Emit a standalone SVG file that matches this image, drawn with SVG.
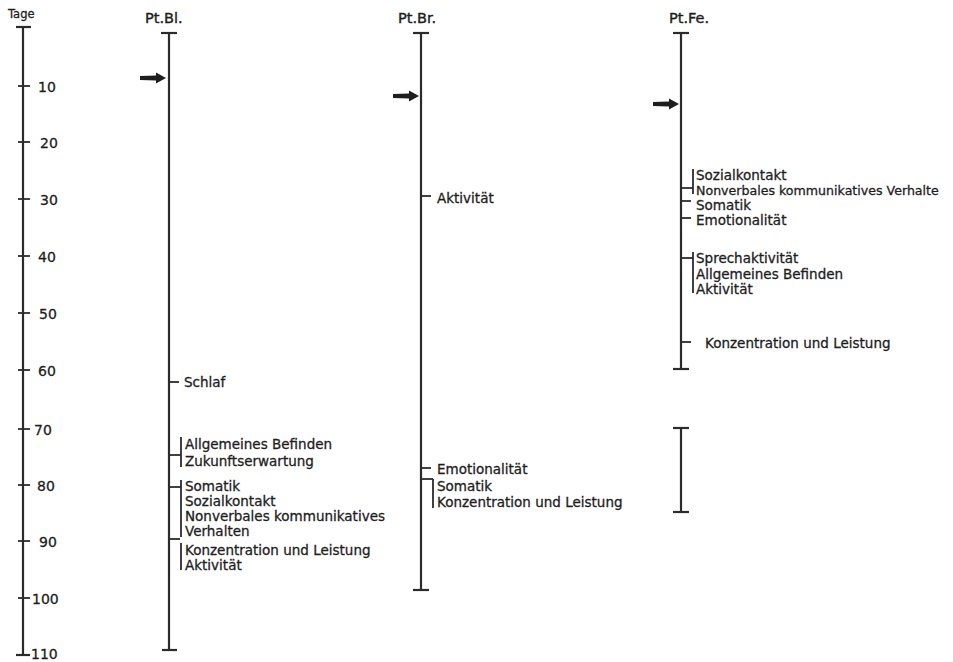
<svg xmlns="http://www.w3.org/2000/svg" width="953" height="662" viewBox="0 0 953 662">
<defs>
<style>
.ln{stroke:#2b2b2b;stroke-width:2.2;fill:none}
.tk{stroke:#2b2b2b;stroke-width:1.8;fill:none}
.t{font-family:"DejaVu Sans","Liberation Sans",sans-serif;font-size:13.5px;fill:#1e1e1e;stroke:#1e1e1e;stroke-width:0.3}
.n{font-family:"DejaVu Sans","Liberation Sans",sans-serif;font-size:14px;fill:#1e1e1e;stroke:#1e1e1e;stroke-width:0.3}
.h{font-family:"DejaVu Sans","Liberation Sans",sans-serif;font-size:14.5px;fill:#1e1e1e;stroke:#1e1e1e;stroke-width:0.4}
</style>
<path id="arr" d="M-26,-2 L-10,-2.6 L-10,-5.5 L0,0 L-10,5.5 L-10,2.6 L-26,2 Z" fill="#1e1e1e"/>
</defs>
<rect width="953" height="662" fill="#ffffff"/>

<g id="axis">
<text class="t" x="8" y="18" style="font-size:11.5px">Tage</text>
<line class="ln" x1="23" y1="27" x2="23" y2="655"/>
<line class="ln" x1="16" y1="27" x2="31" y2="27"/>
<line class="ln" x1="16" y1="655" x2="30" y2="655"/>
<g class="tk">
<line x1="18" y1="86" x2="30" y2="86"/>
<line x1="18" y1="142" x2="30" y2="142"/>
<line x1="18" y1="199" x2="30" y2="199"/>
<line x1="18" y1="256" x2="30" y2="256"/>
<line x1="18" y1="313" x2="30" y2="313"/>
<line x1="18" y1="370" x2="30" y2="370"/>
<line x1="18" y1="429" x2="30" y2="429"/>
<line x1="18" y1="485" x2="30" y2="485"/>
<line x1="18" y1="541" x2="30" y2="541"/>
<line x1="18" y1="598" x2="30" y2="598"/>
</g>
<text class="n" x="38" y="92">10</text>
<text class="n" x="40" y="148">20</text>
<text class="n" x="40" y="205">30</text>
<text class="n" x="38" y="262">40</text>
<text class="n" x="39" y="319">50</text>
<text class="n" x="38" y="376">60</text>
<text class="n" x="34" y="435">70</text>
<text class="n" x="37" y="491">80</text>
<text class="n" x="39" y="547">90</text>
<text class="n" x="32" y="604">100</text>
<text class="n" x="31" y="659">110</text>
</g>

<g id="pt-bl">
<text class="h" x="145" y="23">Pt.Bl.</text>
<line class="ln" x1="169" y1="33" x2="169" y2="650"/>
<line class="ln" x1="161" y1="33" x2="177" y2="33"/>
<line class="ln" x1="162" y1="650" x2="177" y2="650"/>
<use href="#arr" x="166" y="78"/>
<g class="tk">
<line x1="169" y1="382" x2="179" y2="382"/>
<line x1="169" y1="455" x2="181" y2="455"/>
<line x1="181" y1="437" x2="181" y2="467"/>
<line x1="169" y1="487" x2="181" y2="487"/>
<line x1="181" y1="480" x2="181" y2="537"/>
<line x1="169" y1="539" x2="180" y2="539"/>
<line x1="181" y1="543" x2="181" y2="570"/>
</g>
<text class="t" x="184" y="387">Schlaf</text>
<text class="t" x="185" y="449">Allgemeines Befinden</text>
<text class="t" x="185" y="466">Zukunftserwartung</text>
<text class="t" x="185" y="491">Somatik</text>
<text class="t" x="185" y="506">Sozialkontakt</text>
<text class="t" x="185" y="521">Nonverbales kommunikatives</text>
<text class="t" x="185" y="536">Verhalten</text>
<text class="t" x="185" y="555">Konzentration und Leistung</text>
<text class="t" x="185" y="570">Aktivität</text>
</g>

<g id="pt-br">
<text class="h" x="398" y="23">Pt.Br.</text>
<line class="ln" x1="421" y1="33" x2="421" y2="590"/>
<line class="ln" x1="413" y1="33" x2="429" y2="33"/>
<line class="ln" x1="413" y1="590" x2="429" y2="590"/>
<use href="#arr" x="419" y="96"/>
<g class="tk">
<line x1="421" y1="196" x2="431" y2="196"/>
<line x1="421" y1="468" x2="431" y2="468"/>
<line x1="421" y1="479" x2="433" y2="479"/>
<line x1="433" y1="479" x2="433" y2="508"/>
</g>
<text class="t" x="437" y="203">Aktivität</text>
<text class="t" x="437" y="474">Emotionalität</text>
<text class="t" x="437" y="491">Somatik</text>
<text class="t" x="437" y="507">Konzentration und Leistung</text>
</g>

<g id="pt-fe">
<text class="h" x="669" y="23">Pt.Fe.</text>
<line class="ln" x1="681" y1="33" x2="681" y2="369"/>
<line class="ln" x1="673" y1="33" x2="689" y2="33"/>
<line class="ln" x1="673" y1="369" x2="689" y2="369"/>
<line class="ln" x1="681" y1="428" x2="681" y2="512"/>
<line class="ln" x1="673" y1="428" x2="689" y2="428"/>
<line class="ln" x1="673" y1="512" x2="689" y2="512"/>
<use href="#arr" x="679" y="104"/>
<g class="tk">
<line x1="681" y1="188" x2="693" y2="188"/>
<line x1="693" y1="169" x2="693" y2="194"/>
<line x1="681" y1="201" x2="691" y2="201"/>
<line x1="681" y1="218" x2="691" y2="218"/>
<line x1="681" y1="258" x2="693" y2="258"/>
<line x1="693" y1="252" x2="693" y2="293"/>
<line x1="681" y1="342" x2="691" y2="342"/>
</g>
<text class="t" x="696" y="180">Sozialkontakt</text>
<text class="t" x="696" y="195" style="font-size:12.6px">Nonverbales kommunikatives Verhalte</text>
<text class="t" x="696" y="210">Somatik</text>
<text class="t" x="696" y="225">Emotionalität</text>
<text class="t" x="696" y="263">Sprechaktivität</text>
<text class="t" x="696" y="279">Allgemeines Befinden</text>
<text class="t" x="696" y="294">Aktivität</text>
<text class="t" x="705" y="348">Konzentration und Leistung</text>
</g>
</svg>
